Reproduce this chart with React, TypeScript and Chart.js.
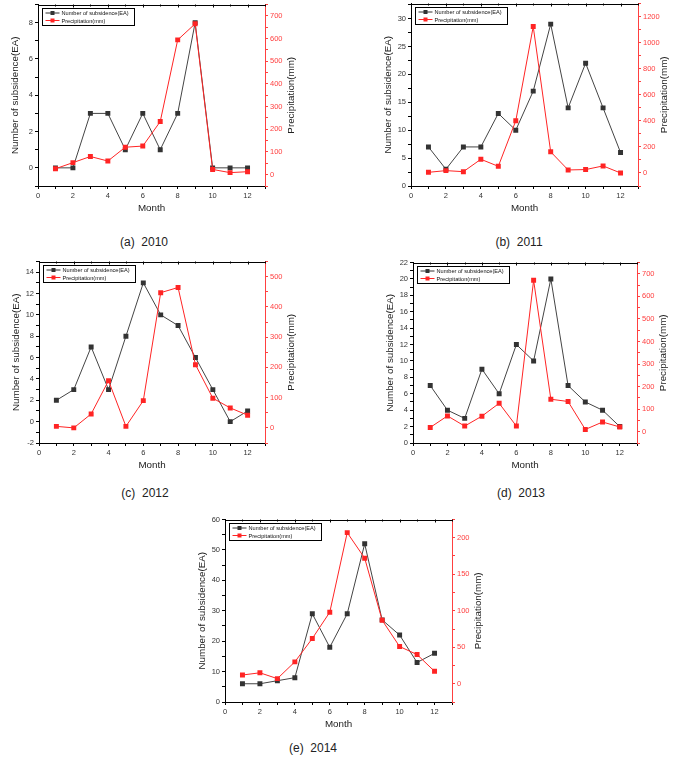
import React, { useEffect, useRef } from "react";
import { Chart, registerables } from "chart.js";
Chart.register(...registerables);

const months = [1, 2, 3, 4, 5, 6, 7, 8, 9, 10, 11, 12];

const subsidence2010 = [0, 0, 3, 3, 1, 3, 1, 3, 8, 0, 0, 0];
const precipitation2010 = [26, 53, 80, 60, 121, 126, 234, 594, 665, 23, 9, 13];
const subsidence2011 = [7, 3, 7, 7, 13, 10, 17, 29, 14, 22, 14, 6];
const precipitation2011 = [5, 18, 10, 105, 51, 400, 1123, 162, 23, 26, 54, 0];
const subsidence2012 = [2, 3, 7, 3, 8, 13, 10, 9, 6, 3, 0, 1];
const precipitation2012 = [5, 0, 46, 156, 5, 90, 447, 464, 209, 98, 66, 42];
const subsidence2013 = [7, 4, 3, 9, 6, 12, 10, 20, 7, 5, 4, 2];
const precipitation2013 = [19, 70, 25, 69, 126, 25, 671, 144, 134, 10, 43, 21];
const subsidence2014 = [6, 6, 7, 8, 29, 18, 29, 52, 27, 22, 13, 16];
const precipitation2014 = [12, 15, 7, 30, 62, 98, 207, 172, 87, 51, 40, 17];

const captions = ["(a)  2010", "(b)  2011", "(c)  2012", "(d)  2013", "(e)  2014"];
const subsidenceLabel = "Number of subsidence(EA)";
const precipitationLabel = "Precipitation(mm)";
const xTitle = "Month";

// axis ranges: [min, max, labelStep, minorStep]
const xAxis = [0, 13, 2, 1];
const leftAxes = [
  [-1, 9, 2, 1],
  [0, 32.7, 5, 2.5],
  [-2, 15, 2, 1],
  [0, 22, 2, 1],
  [0, 60, 10, 5],
];
const rightAxes = [
  [-50, 750, 100, 50],
  [-100, 1300, 200, 100],
  [-50, 550, 100, 50],
  [-50, 750, 100, 50],
  [-25, 225, 50, 25],
];

const subsidenceSeries = [subsidence2010, subsidence2011, subsidence2012, subsidence2013, subsidence2014];
const precipitationSeries = [precipitation2010, precipitation2011, precipitation2012, precipitation2013, precipitation2014];

// layout (plot-area boxes and caption centres, px)
const plotBoxes = [
  { L: 38, R: 265, T: 4, B: 186 },
  { L: 411, R: 638, T: 3, B: 186 },
  { L: 39, R: 265, T: 261, B: 443 },
  { L: 413, R: 637, T: 262, B: 443 },
  { L: 225, R: 452, T: 519, B: 702 },
];
const captionPos = [
  { x: 144, y: 242 },
  { x: 519, y: 242 },
  { x: 145, y: 493 },
  { x: 521, y: 493 },
  { x: 313, y: 748 },
];

const WL = 30;
const WR = 40;
const HX = 34;
const PT = 6;

const FONT = "'Liberation Sans', Arial, Helvetica, sans-serif";
const BLACK = "#333333";
const RED = "#ff2424";
const RED_AXIS = "#ff4040";
const TITLE_SIZE = 9.8;

function makeTicks(min: number, max: number, minor: number) {
  const out: { value: number }[] = [];
  const start = Math.ceil(min / minor - 1e-9) * minor;
  for (let v = start; v <= max + 1e-9; v += minor) {
    out.push({ value: Math.round(v * 1000) / 1000 });
  }
  return out;
}
function isMultiple(v: number, step: number) {
  const r = v / step;
  return Math.abs(r - Math.round(r)) < 1e-6;
}

function Panel({ idx }: { idx: number }) {
  const ref = useRef<HTMLCanvasElement | null>(null);
  const box = plotBoxes[idx];
  const width = box.R - box.L + WL + WR;
  const height = box.B - box.T + PT + HX;

  useEffect(() => {
    if (!ref.current) return;
    const [xMin, xMax, xStep, xMinor] = xAxis;
    const [lMin, lMax, lStep, lMinor] = leftAxes[idx];
    const [rMin, rMax, rStep, rMinor] = rightAxes[idx];
    const sub = subsidenceSeries[idx];
    const pre = precipitationSeries[idx];

    const framePlugin = {
      id: "frame" + idx,
      afterDatasetsDraw(chart: any) {
        const { ctx, chartArea: a, scales } = chart;
        ctx.save();
        ctx.strokeStyle = "#000";
        ctx.lineWidth = 1;
        ctx.beginPath();
        ctx.moveTo(a.left, Math.round(a.top) + 0.5);
        ctx.lineTo(a.right, Math.round(a.top) + 0.5);
        const xs = scales.x;
        for (const t of xs.ticks) {
          const px = Math.round(xs.getPixelForValue(t.value)) + 0.5;
          const len = isMultiple(t.value, xStep) ? 3 : 2;
          ctx.moveTo(px, a.top);
          ctx.lineTo(px, a.top + len);
        }
        ctx.stroke();

        // right axis title, reading bottom-to-top
        ctx.save();
        ctx.translate(a.right + 26, (a.top + a.bottom) / 2);
        ctx.rotate(-Math.PI / 2);
        ctx.font = TITLE_SIZE + "px " + FONT;
        ctx.fillStyle = "#222";
        ctx.textAlign = "center";
        ctx.textBaseline = "middle";
        ctx.fillText(precipitationLabel, 0, 0);
        ctx.restore();

        // legend box
        const lx = Math.round(a.left) + 4.5;
        const ly = Math.round(a.top) + 3.5;
        const lw = 92;
        const lh = 17;
        ctx.fillStyle = "#fff";
        ctx.fillRect(lx, ly, lw, lh);
        ctx.strokeStyle = "#000";
        ctx.strokeRect(lx, ly, lw, lh);
        const entries = [
          { c: BLACK, t: subsidenceLabel },
          { c: RED, t: precipitationLabel },
        ];
        ctx.font = "5.6px " + FONT;
        ctx.textBaseline = "middle";
        ctx.textAlign = "left";
        entries.forEach((e, i) => {
          const y = ly + 4.5 + i * 7.5;
          ctx.strokeStyle = e.c;
          ctx.beginPath();
          ctx.moveTo(lx + 3, y);
          ctx.lineTo(lx + 17, y);
          ctx.stroke();
          ctx.fillStyle = e.c;
          ctx.fillRect(lx + 8, y - 2, 4, 4);
          ctx.fillStyle = "#111";
          ctx.fillText(e.t, lx + 19, y + 0.5);
        });
        ctx.restore();
      },
    };

    const tickFont = { family: FONT, size: 7.5 };
    const titleFont = { family: FONT, size: TITLE_SIZE };

    const chart = new Chart(ref.current, {
      type: "line",
      data: {
        datasets: [
          {
            label: subsidenceLabel,
            data: months.map((m, i) => ({ x: m, y: sub[i] })),
            yAxisID: "y",
            borderColor: "#444444",
            backgroundColor: BLACK,
            borderWidth: 1,
            pointStyle: "rect",
            pointRadius: 3.5,
            pointBorderWidth: 0,
            pointBackgroundColor: BLACK,
            order: 2,
          },
          {
            label: precipitationLabel,
            data: months.map((m, i) => ({ x: m, y: pre[i] })),
            yAxisID: "y1",
            borderColor: RED,
            backgroundColor: RED,
            borderWidth: 1,
            pointStyle: "rect",
            pointRadius: 3.5,
            pointBorderWidth: 0,
            pointBackgroundColor: RED,
            order: 1,
          },
        ],
      },
      options: {
        responsive: false,
        animation: false,
        devicePixelRatio: 1,
        layout: { padding: { top: PT, left: 0, right: 0, bottom: 0 } },
        plugins: { legend: { display: false }, tooltip: { enabled: false } },
        scales: {
          x: {
            type: "linear",
            min: xMin,
            max: xMax,
            afterBuildTicks: (s: any) => {
              s.ticks = makeTicks(xMin, xMax, xMinor);
            },
            afterFit: (s: any) => {
              s.height = HX;
            },
            ticks: {
              autoSkip: false,
              maxRotation: 0,
              padding: 2,
              color: "#333",
              font: tickFont,
              callback: (v: any) => (isMultiple(Number(v), xStep) ? String(v) : ""),
            },
            grid: { drawOnChartArea: false, tickLength: 3, color: "#000" },
            border: { color: "#000", width: 1 },
            title: {
              display: true,
              text: xTitle,
              color: "#222",
              font: titleFont,
              padding: { top: 0, bottom: 5.6 },
            },
          },
          y: {
            type: "linear",
            position: "left",
            min: lMin,
            max: lMax,
            afterBuildTicks: (s: any) => {
              s.ticks = makeTicks(lMin, lMax, lMinor);
            },
            afterFit: (s: any) => {
              s.width = WL;
            },
            ticks: {
              autoSkip: false,
              padding: 2,
              color: "#333",
              font: tickFont,
              callback: (v: any) => (isMultiple(Number(v), lStep) ? String(v) : ""),
            },
            grid: { drawOnChartArea: false, tickLength: 3, color: "#000" },
            border: { color: "#000", width: 1 },
            title: {
              display: true,
              text: subsidenceLabel,
              color: "#222",
              font: titleFont,
              padding: { top: 1.2, bottom: 0 },
            },
          },
          y1: {
            type: "linear",
            position: "right",
            min: rMin,
            max: rMax,
            afterBuildTicks: (s: any) => {
              s.ticks = makeTicks(rMin, rMax, rMinor);
            },
            afterFit: (s: any) => {
              s.width = WR;
            },
            ticks: {
              autoSkip: false,
              padding: 2,
              color: RED_AXIS,
              font: tickFont,
              callback: (v: any) => (isMultiple(Number(v), rStep) ? String(v) : ""),
            },
            grid: { drawOnChartArea: false, tickLength: 3, color: RED_AXIS },
            border: { color: RED_AXIS, width: 1 },
            title: { display: false },
          },
        },
      },
      plugins: [framePlugin],
    } as any);
    return () => chart.destroy();
  }, [idx]);

  return (
    <canvas
      ref={ref}
      width={width}
      height={height}
      style={{
        position: "absolute",
        left: box.L - WL,
        top: box.T - PT,
        width,
        height,
      }}
    />
  );
}

export default function App() {
  return (
    <div
      style={{
        position: "absolute",
        left: 0,
        top: 0,
        width: 686,
        height: 759,
        background: "#fff",
        overflow: "hidden",
      }}
    >
      {plotBoxes.map((_, i) => (
        <Panel key={i} idx={i} />
      ))}
      {captions.map((c, i) => (
        <div
          key={"c" + i}
          style={{
            position: "absolute",
            left: captionPos[i].x - 60,
            top: captionPos[i].y - 8,
            width: 120,
            textAlign: "center",
            font: "12px " + FONT,
            lineHeight: "16px",
            color: "#222",
            whiteSpace: "pre",
          }}
        >
          {c}
        </div>
      ))}
    </div>
  );
}
